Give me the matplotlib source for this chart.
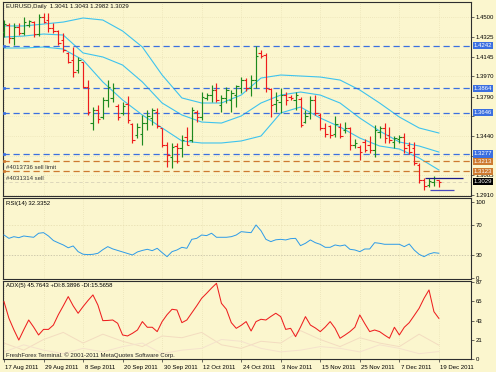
import matplotlib
matplotlib.use("Agg")
import matplotlib.pyplot as plt
import matplotlib.transforms as mtransforms
import numpy as np

# ---------------- data ----------------
opens = [1.4366, 1.4429, 1.4312, 1.4411, 1.4357, 1.4429, 1.4455, 1.4348, 1.4500, 1.4473,
         1.4402, 1.4375, 1.4295, 1.4179, 1.4116, 1.4027, 1.4098, 1.3875, 1.3553, 1.3670,
         1.3607, 1.3759, 1.3777, 1.3705, 1.3643, 1.3723, 1.3545, 1.3446, 1.3455, 1.3553,
         1.3598, 1.3652, 1.3509, 1.3357, 1.3250, 1.3348, 1.3330, 1.3428, 1.3402, 1.3652,
         1.3607, 1.3777, 1.3803, 1.3848, 1.3714, 1.3777, 1.3759, 1.3803, 1.3866, 1.3937,
         1.3866, 1.3937, 1.4179, 1.4161, 1.3857, 1.3723, 1.3741, 1.3803, 1.3786, 1.3759,
         1.3768, 1.3562, 1.3643, 1.3759, 1.3625, 1.3509, 1.3527, 1.3455, 1.3518, 1.3491,
         1.3509, 1.3357, 1.3339, 1.3384, 1.3357, 1.3312, 1.3473, 1.3509, 1.3446, 1.3384,
         1.3411, 1.3428, 1.3357, 1.3330, 1.3178, 1.3044, 1.3000, 1.3027, 1.3041]
highs = [1.4473, 1.4446, 1.4446, 1.4446, 1.4500, 1.4473, 1.4464, 1.4527, 1.4536, 1.4536,
         1.4446, 1.4384, 1.4357, 1.4187, 1.4232, 1.4143, 1.4098, 1.3937, 1.3696, 1.3714,
         1.3786, 1.3937, 1.3911, 1.3723, 1.3741, 1.3795, 1.3553, 1.3553, 1.3625, 1.3670,
         1.3687, 1.3687, 1.3509, 1.3384, 1.3375, 1.3375, 1.3446, 1.3518, 1.3696, 1.3670,
         1.3830, 1.3821, 1.3893, 1.3911, 1.3803, 1.3875, 1.3848, 1.3893, 1.3964, 1.3955,
         1.3982, 1.4241, 1.4205, 1.4179, 1.3866, 1.3830, 1.3866, 1.3830, 1.3803, 1.3830,
         1.3786, 1.3670, 1.3795, 1.3803, 1.3643, 1.3553, 1.3536, 1.3616, 1.3553, 1.3562,
         1.3518, 1.3411, 1.3357, 1.3411, 1.3437, 1.3536, 1.3527, 1.3553, 1.3518, 1.3437,
         1.3446, 1.3464, 1.3384, 1.3384, 1.3196, 1.3062, 1.3062, 1.3080, 1.3043]
lows = [1.4321, 1.4268, 1.4250, 1.4339, 1.4339, 1.4411, 1.4321, 1.4330, 1.4446, 1.4366,
        1.4357, 1.4250, 1.4187, 1.4089, 1.3964, 1.4000, 1.3866, 1.3625, 1.3491, 1.3553,
        1.3589, 1.3696, 1.3741, 1.3580, 1.3625, 1.3553, 1.3375, 1.3419, 1.3357, 1.3491,
        1.3536, 1.3509, 1.3339, 1.3161, 1.3152, 1.3196, 1.3250, 1.3357, 1.3384, 1.3562,
        1.3580, 1.3759, 1.3741, 1.3741, 1.3652, 1.3732, 1.3652, 1.3696, 1.3821, 1.3839,
        1.3795, 1.3866, 1.4134, 1.3830, 1.3607, 1.3652, 1.3643, 1.3714, 1.3759, 1.3670,
        1.3518, 1.3553, 1.3589, 1.3625, 1.3491, 1.3428, 1.3419, 1.3428, 1.3419, 1.3464,
        1.3312, 1.3330, 1.3223, 1.3294, 1.3286, 1.3250, 1.3419, 1.3375, 1.3375, 1.3330,
        1.3375, 1.3286, 1.3277, 1.3178, 1.3018, 1.2955, 1.2982, 1.2991, 1.2982]
closes = [1.4437, 1.4312, 1.4411, 1.4357, 1.4455, 1.4464, 1.4348, 1.4500, 1.4455, 1.4402,
          1.4375, 1.4268, 1.4205, 1.4098, 1.4009, 1.4116, 1.3875, 1.3652, 1.3670, 1.3589,
          1.3759, 1.3875, 1.3866, 1.3607, 1.3705, 1.3580, 1.3402, 1.3518, 1.3553, 1.3616,
          1.3670, 1.3527, 1.3357, 1.3268, 1.3339, 1.3330, 1.3402, 1.3357, 1.3670, 1.3607,
          1.3786, 1.3803, 1.3848, 1.3759, 1.3777, 1.3848, 1.3821, 1.3884, 1.3937, 1.3866,
          1.3937, 1.4152, 1.4152, 1.3866, 1.3714, 1.3759, 1.3803, 1.3759, 1.3777, 1.3803,
          1.3536, 1.3616, 1.3759, 1.3643, 1.3509, 1.3455, 1.3446, 1.3545, 1.3437, 1.3509,
          1.3357, 1.3375, 1.3294, 1.3312, 1.3312, 1.3491, 1.3509, 1.3419, 1.3402, 1.3419,
          1.3428, 1.3330, 1.3294, 1.3196, 1.3044, 1.2991, 1.3035, 1.3062, 1.3029]

band_idx = [0, 4, 8, 12, 16, 20, 24, 28, 32, 36, 40, 44, 48, 52, 56, 60, 64, 68, 72, 76, 80, 84, 88]
band_upper = [1.4420, 1.4420, 1.4437, 1.4455, 1.4491, 1.4473, 1.4375, 1.4232, 1.3982, 1.3777,
              1.3732, 1.3732, 1.3803, 1.3955, 1.3982, 1.3973, 1.3964, 1.3937, 1.3848, 1.3732,
              1.3607, 1.3509, 1.3464]
band_middle = [1.4321, 1.4330, 1.4348, 1.4339, 1.4179, 1.4143, 1.4071, 1.3920, 1.3732, 1.3625,
               1.3562, 1.3553, 1.3616, 1.3732, 1.3803, 1.3830, 1.3803, 1.3732, 1.3598, 1.3482,
               1.3384, 1.3348, 1.3294]
band_lower = [1.4223, 1.4223, 1.4232, 1.4214, 1.4116, 1.3920, 1.3759, 1.3625, 1.3509, 1.3393,
              1.3375, 1.3375, 1.3393, 1.3437, 1.3643, 1.3696, 1.3598, 1.3518, 1.3419, 1.3348,
              1.3321, 1.3241, 1.3134]

levels_blue = [1.4242, 1.3864, 1.3646, 1.3277]
levels_orange = [1.3213, 1.3123]
last_price = 1.3029
price_ticks = [1.4500, 1.4325, 1.4145, 1.3970, 1.3790, 1.3615, 1.3440, 1.3260, 1.3085, 1.2910]
hidden_ticks = [1.3615, 1.3260]
trend_a = (85.2, 92.9, 1.3062)
trend_b = (86.2, 91.0, 1.2955)

rsi = [56.3, 51.9, 54.1, 52.8, 55.0, 54.1, 53.3, 58.6, 59.4, 55.0,
       49.0, 46.0, 43.2, 39.5, 41.9, 34.4, 31.0, 30.5, 30.9, 32.2,
       37.0, 41.0, 38.0, 36.0, 34.0, 32.0, 30.0, 34.0, 36.0, 37.5,
       35.7, 38.8, 33.1, 27.8, 34.4, 36.6, 40.1, 38.8, 50.6, 51.9,
       56.3, 55.5, 58.6, 53.3, 53.3, 53.3, 54.1, 56.3, 60.7, 60.0,
       59.4, 69.5, 62.0, 50.6, 47.6, 50.0, 50.6, 49.8, 51.5, 51.9,
       42.3, 45.4, 49.8, 46.2, 44.0, 40.1, 40.1, 43.2, 41.9, 43.2,
       37.5, 36.6, 34.4, 37.9, 37.9, 46.2, 45.4, 44.1, 44.1, 44.1,
       44.1, 41.0, 44.5, 36.6, 30.9, 27.8, 31.3, 33.1, 32.3]

adx = [64.7, 45.9, 33.0, 21.4, 33.0, 44.0, 36.0, 27.1, 33.4, 33.4,
       38.3, 50.0, 60.0, 70.4, 60.0, 51.6, 59.1, 66.0, 72.3, 60.9,
       43.3, 43.5, 44.0, 40.3, 27.1, 26.0, 29.0, 32.7, 42.2, 35.8,
       35.8, 30.9, 42.2, 50.0, 56.1, 55.3, 41.0, 44.0, 52.0, 60.0,
       68.5, 74.1, 80.0, 85.4, 62.8, 56.1, 41.0, 34.6, 38.0, 42.2,
       31.6, 42.2, 44.8, 44.0, 48.0, 51.6, 47.8, 33.4, 34.6, 25.2,
       36.0, 47.8, 38.3, 35.0, 30.9, 36.0, 42.2, 34.6, 23.4, 27.0,
       30.9, 35.8, 49.7, 40.0, 30.9, 32.7, 30.9, 27.0, 23.4, 35.8,
       27.1, 35.8, 41.0, 49.0, 57.2, 68.5, 77.9, 53.4, 45.8]
di_idx = [0, 4, 8, 12, 16, 20, 24, 28, 32, 36, 40, 44, 48, 52, 56, 60, 64, 68, 72, 76, 80, 84, 88]
di_minus = [18, 10, 22, 30, 18, 28, 20, 14, 26, 24, 30, 16, 12, 20, 18, 32, 22, 14, 24, 18, 14, 28, 15.6]
di_plus = [8, 16, 10, 6, 12, 8, 14, 18, 6, 10, 12, 22, 20, 12, 8, 10, 14, 12, 8, 16, 12, 6, 8.4]

date_pos = [0, 8, 16, 24, 32, 40, 48, 56, 64, 72, 80, 88]
date_labels = ["17 Aug 2011", "29 Aug 2011", "8 Sep 2011", "20 Sep 2011", "30 Sep 2011",
               "12 Oct 2011", "24 Oct 2011", "3 Nov 2011", "15 Nov 2011", "25 Nov 2011",
               "7 Dec 2011", "19 Dec 2011"]

# ---------------- style ----------------
BG = "#FBF6CE"
GRID = "#E4DBAE"
RED = "#EE1C1C"
GREEN = "#1E8A1E"
BAND = "#3EC3EE"
BLUE = "#3B6FE0"
ORANGE = "#CD7A30"
FRAME = "#2E2E2E"
FS = 4.3
plt.rcParams["font.family"] = ["Liberation Sans", "DejaVu Sans"]

fig = plt.figure(figsize=(4.96, 3.72), dpi=100, facecolor=BG)
W, H = 496.0, 372.0
ax1 = fig.add_axes([3 / W, 1 - 196 / H, 468 / W, 194 / H])
ax2 = fig.add_axes([3 / W, 1 - 279 / H, 468 / W, 81 / H])
ax3 = fig.add_axes([3 / W, 1 - 359 / H, 468 / W, 78 / H])

XL = (-0.2, 94.5)
for ax in (ax1, ax2, ax3):
    ax.set_facecolor(BG)
    ax.set_xlim(*XL)
    for s in ax.spines.values():
        s.set_color(FRAME)
        s.set_linewidth(0.8)
    for p in date_pos:
        ax.axvline(p, color=GRID, lw=0.5, ls=(0, (1, 2)), zorder=0)
    ax.tick_params(axis="x", bottom=False, labelbottom=False)
    ax.yaxis.tick_right()
    ax.tick_params(axis="y", length=2, width=0.5, color=FRAME, labelsize=FS, pad=1.5)

# ---------------- main panel ----------------
ax1.set_ylim(1.29015, 1.46340)
ax1.set_yticks(price_ticks)
ax1.set_yticklabels(["" if v in hidden_ticks else "%.4f" % v for v in price_ticks])
for v in price_ticks:
    ax1.axhline(v, color=GRID, lw=0.5, ls=(0, (1, 2)), zorder=0)

ax1.plot(band_idx, band_upper, color=BAND, lw=0.8, zorder=2)
ax1.plot(band_idx, band_middle, color=BAND, lw=0.8, zorder=2)
ax1.plot(band_idx, band_lower, color=BAND, lw=0.8, zorder=2)

for lv in levels_blue:
    ax1.axhline(lv, color=BLUE, lw=0.9, dashes=(5, 3), zorder=3)
    ax1.plot([0.05], [lv], marker="s", ms=2, mfc="none", mec=BLUE, mew=0.6, clip_on=False, zorder=4)
for lv in levels_orange:
    ax1.axhline(lv, color=ORANGE, lw=0.9, dashes=(5, 3), zorder=3)
    ax1.plot([0.05], [lv], marker="s", ms=2, mfc="none", mec=ORANGE, mew=0.6, clip_on=False, zorder=4)
ax1.axhline(last_price, color="#D8D2B8", lw=0.6, dashes=(4, 3), zorder=1)

o = np.array(opens); h = np.array(highs); l = np.array(lows); c = np.array(closes)
x = np.arange(len(o))
cols = np.where(c >= o, GREEN, RED)
ax1.vlines(x, l, h, colors=cols, lw=0.85, zorder=5)
ax1.hlines(o, x - 0.5, x, colors=cols, lw=0.8, zorder=5)
ax1.hlines(c, x, x + 0.5, colors=cols, lw=0.8, zorder=5)

ax1.hlines([trend_a[2]], [trend_a[0]], [trend_a[1]], colors="#1A1A8C", lw=0.9, zorder=6)
ax1.hlines([trend_b[2]], [trend_b[0]], [trend_b[1]], colors="#4A4ABE", lw=0.9, zorder=6)

ax1.text(0.006, 0.979, "EURUSD,Daily  1.3041 1.3043 1.2982 1.3029", transform=ax1.transAxes,
         fontsize=FS, va="center", ha="left", color="#111111")
ax1.text(0.4, 1.3152, "#4013736 sell limit", fontsize=FS, va="center", ha="left", color="#333333", zorder=7)
ax1.text(0.4, 1.3062, "#4031314 sell", fontsize=FS, va="center", ha="left", color="#333333", zorder=7)

tr = mtransforms.blended_transform_factory(ax1.transAxes, ax1.transData)
def price_box(v, fc, tc="white"):
    ax1.text(1.006, v, "%.4f" % v, transform=tr, fontsize=FS, color=tc, va="center", ha="left",
             bbox=dict(boxstyle="square,pad=0.18", fc=fc, ec="none"), clip_on=False, zorder=20)
for lv in levels_blue:
    price_box(lv, BLUE)
for lv in levels_orange:
    price_box(lv, ORANGE)
price_box(last_price, "#000000")

# ---------------- RSI panel ----------------
ax2.set_ylim(-1.6, 105.0)
ax2.set_yticks([0, 30, 70, 100])
ax2.set_yticklabels(["0", "30", "70", "100"])
ax2.axhline(30, color="#BDB8A0", lw=0.5, ls=(0, (2, 2)), zorder=1)
ax2.axhline(70, color=GRID, lw=0.5, ls=(0, (2, 2)), zorder=1)
ax2.plot(np.arange(len(rsi)), rsi, color="#2D9BE8", lw=0.7, zorder=3)
ax2.text(0.006, 0.926, "RSI(14) 32.3352", transform=ax2.transAxes, fontsize=FS, va="center", ha="left")

# ---------------- ADX panel ----------------
ax3.set_ylim(0, 88)
ax3.set_yticks([0, 21, 43, 65, 87])
ax3.set_yticklabels(["0", "21", "43", "65", "87"])
ax3.plot(di_idx, di_minus, color="#F3DCC0", lw=0.7, zorder=2)
ax3.plot(di_idx, di_plus, color="#F5E2CC", lw=0.7, zorder=2)
ax3.plot(np.arange(len(adx)), adx, color="#EE2020", lw=0.75, zorder=3)
ax3.text(0.006, 0.936, "ADX(5) 45.7643 +DI:8.3896 -DI:15.5658", transform=ax3.transAxes,
         fontsize=FS, va="center", ha="left")
ax3.text(0.006, 0.05, "FreshForex Terminal. \u00a9 2001-2011 MetaQuotes Software Corp.",
         transform=ax3.transAxes, fontsize=FS, va="center", ha="left", color="#222222")

ax3.set_xticks(date_pos)
ax3.tick_params(axis="x", bottom=True, labelbottom=False, length=2.5, width=0.5, color=FRAME, direction="out")
trd = mtransforms.blended_transform_factory(ax3.transData, ax3.transAxes)
for p, lab in zip(date_pos, date_labels):
    ax3.text(p + 0.3, -0.105, lab, transform=trd, fontsize=FS, va="center", ha="left", clip_on=False)

fig.savefig("out.png", dpi=100, facecolor=BG)
